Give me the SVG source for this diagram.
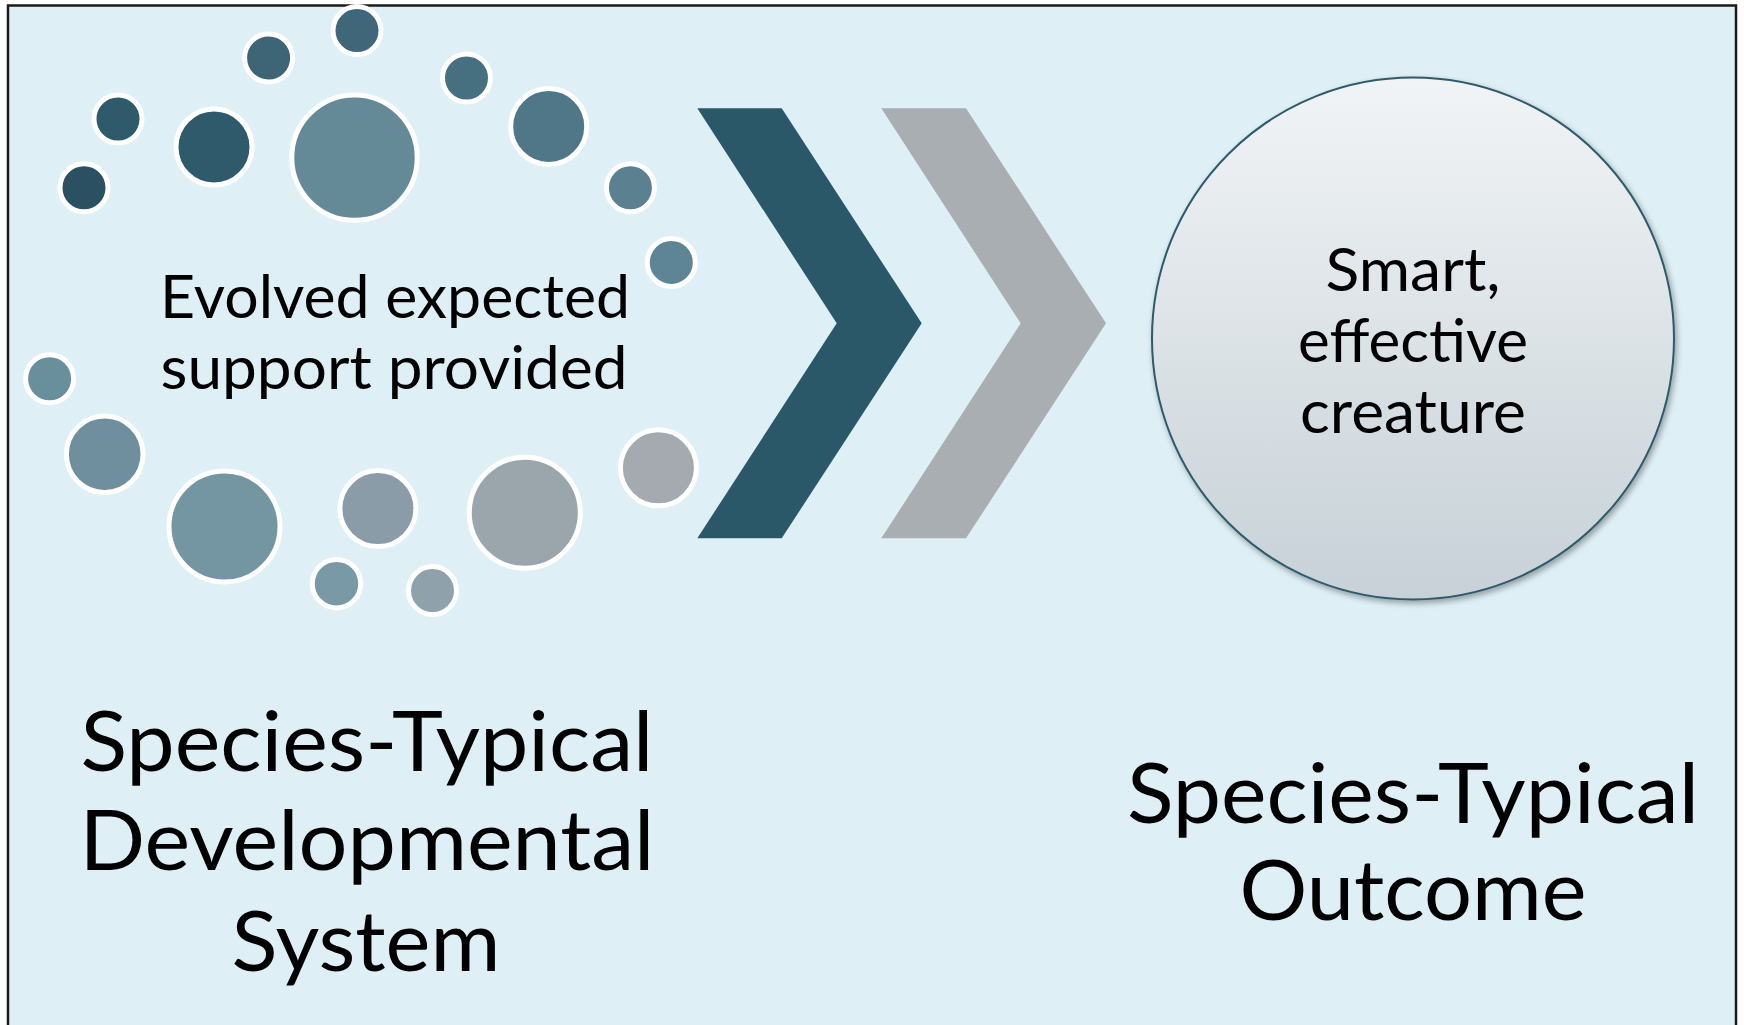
<svg xmlns="http://www.w3.org/2000/svg" width="1744" height="1025" viewBox="0 0 1744 1025">
  <defs>
    <style>
      .dot { stroke: #ffffff; stroke-width: 5; }
      .lbl { font-family: Lato, "Open Sans", "DejaVu Sans", sans-serif; fill: #000000; text-anchor: middle; }
      .mid { font-size: 60px; }
      .big { font-size: 83px; }
    </style>
    <linearGradient id="outGrad" x1="0" y1="0" x2="0" y2="1">
      <stop offset="0" stop-color="#F1F4F6"/>
      <stop offset="1" stop-color="#C7D1D7"/>
    </linearGradient>
    <filter id="shadow" x="-10%" y="-10%" width="125%" height="125%">
      <feGaussianBlur in="SourceAlpha" stdDeviation="3"/>
      <feOffset dx="2" dy="3" result="b"/>
      <feComponentTransfer><feFuncA type="linear" slope="0.35"/></feComponentTransfer>
      <feMerge><feMergeNode/><feMergeNode in="SourceGraphic"/></feMerge>
    </filter>
  </defs>

  <rect id="frame" x="8" y="5.5" width="1728" height="1030" fill="#DEF0F6" stroke="#1A1A1A" stroke-width="2.5"/>

  <g id="support-dots">
    <circle class="dot" cx="357" cy="30.6" r="24" fill="#3F6779"/>
    <circle class="dot" cx="268.6" cy="58" r="24" fill="#3D6576"/>
    <circle class="dot" cx="466.5" cy="78" r="24" fill="#46707F"/>
    <circle class="dot" cx="118" cy="119" r="24" fill="#2F5A6B"/>
    <circle class="dot" cx="84" cy="187.8" r="24" fill="#2A5061"/>
    <circle class="dot" cx="214" cy="147" r="38" fill="#2E5A6B"/>
    <circle class="dot" cx="354.5" cy="157.6" r="62.7" fill="#648A98"/>
    <circle class="dot" cx="548.7" cy="126.5" r="38" fill="#4F7787"/>
    <circle class="dot" cx="630.4" cy="187.8" r="24" fill="#5B8090"/>
    <circle class="dot" cx="671.3" cy="262.4" r="24" fill="#5E8595"/>
    <circle class="dot" cx="49.6" cy="378.8" r="24" fill="#6A8F9C"/>
    <circle class="dot" cx="104.7" cy="454.3" r="38.3" fill="#6F8F9E"/>
    <circle class="dot" cx="224.5" cy="526.5" r="55.5" fill="#7495A2"/>
    <circle class="dot" cx="377.9" cy="508.6" r="38" fill="#899CA8"/>
    <circle class="dot" cx="524.8" cy="512.7" r="55.5" fill="#9AA6AC"/>
    <circle class="dot" cx="658.4" cy="467.8" r="38" fill="#A4AAB0"/>
    <circle class="dot" cx="336.5" cy="583.7" r="24.2" fill="#7A99A6"/>
    <circle class="dot" cx="432.5" cy="590.6" r="24" fill="#8FA1AA"/>
  </g>

  <g id="support-text">
    <text class="lbl mid" x="395" y="318" textLength="470" lengthAdjust="spacingAndGlyphs">Evolved expected</text>
    <text class="lbl mid" x="394" y="389" textLength="467" lengthAdjust="spacingAndGlyphs">support provided</text>
  </g>

  <g id="connectors">
    <polygon points="697.3,108.3 781.7,108.3 921.7,323.3 781.7,538.3 697.3,538.3 836.7,323.3" fill="#2A5869"/>
    <polygon points="881.3,108.3 966,108.3 1106,323.3 966,538.3 881.3,538.3 1020.7,323.3" fill="#A8AEB2"/>
  </g>

  <g id="outcome-node">
    <circle cx="1413" cy="338.5" r="261" fill="url(#outGrad)" stroke="#2E5A6B" stroke-width="2" filter="url(#shadow)"/>
    <text class="lbl mid" x="1413" y="291" textLength="175" lengthAdjust="spacingAndGlyphs">Smart,</text>
    <text class="lbl mid" x="1413" y="362" textLength="230" lengthAdjust="spacingAndGlyphs">effective</text>
    <text class="lbl mid" x="1413" y="433" textLength="226" lengthAdjust="spacingAndGlyphs">creature</text>
  </g>

  <g id="system-label">
    <text class="lbl big" x="367" y="771" textLength="573" lengthAdjust="spacingAndGlyphs">Species-Typical</text>
    <text class="lbl big" x="367" y="870" textLength="575" lengthAdjust="spacingAndGlyphs">Developmental</text>
    <text class="lbl big" x="366" y="971" textLength="269" lengthAdjust="spacingAndGlyphs">System</text>
  </g>

  <g id="outcome-label">
    <text class="lbl big" x="1413" y="823" textLength="572" lengthAdjust="spacingAndGlyphs">Species-Typical</text>
    <text class="lbl big" x="1413" y="920" textLength="347" lengthAdjust="spacingAndGlyphs">Outcome</text>
  </g>
</svg>
